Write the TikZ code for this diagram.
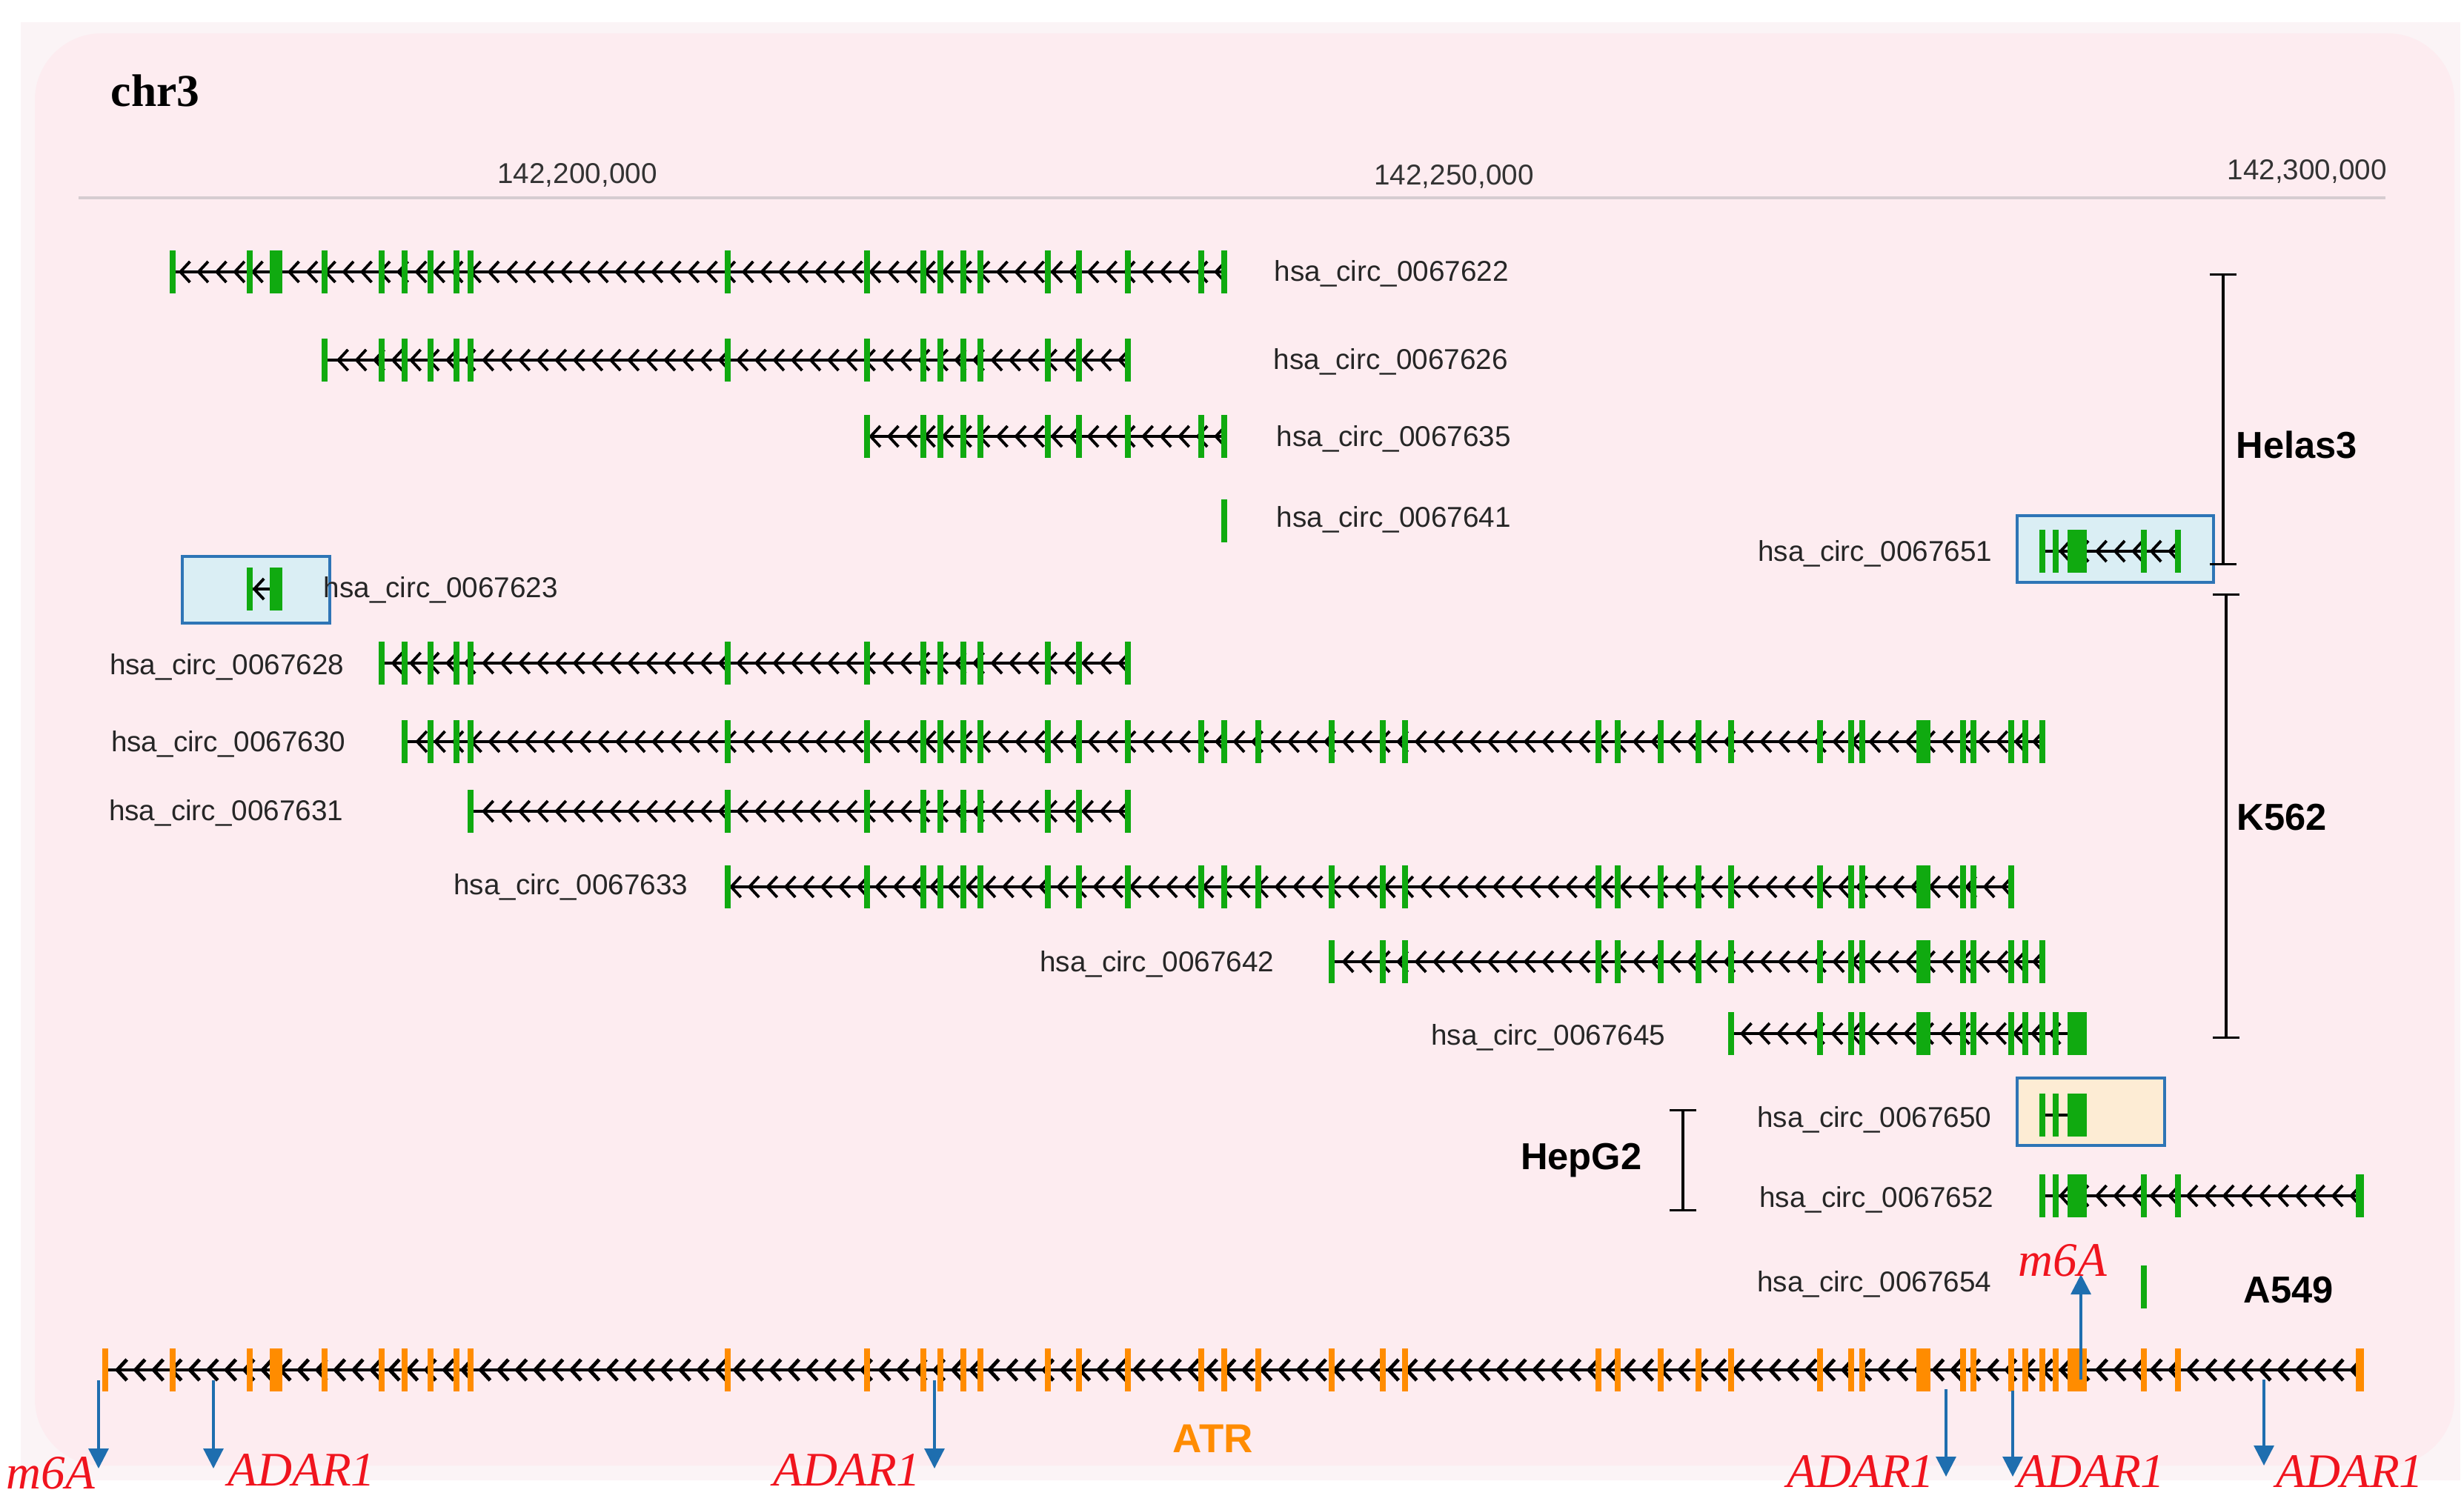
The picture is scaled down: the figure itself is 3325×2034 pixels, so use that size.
\documentclass[tikz,border=0pt]{standalone}
\usepackage{fontspec}
\setmainfont{Liberation Sans}
\newfontfamily\serifont{Liberation Serif}
\usetikzlibrary{arrows.meta,decorations.markings}
\definecolor{circgreen}{RGB}{16,170,16}
\definecolor{atrorange}{RGB}{255,140,0}
\definecolor{modblue}{RGB}{30,110,175}
\definecolor{modred}{RGB}{240,20,30}
\definecolor{pinkbg}{RGB}{253,236,240}
\definecolor{pinkrim}{RGB}{251,244,246}
\definecolor{axisgrey}{RGB}{214,204,208}
\definecolor{boxblue}{RGB}{46,117,182}
\definecolor{boxcyan}{RGB}{218,238,244}
\definecolor{boxcream}{RGB}{253,236,212}
% exon centre / width of the ATR gene model
\newcommand{\atrexons}{142/8, 233/8, 337/8, 372/17, 438/8, 515/8, 546/8, 581/8, 616/8, 635/8,
	982/8, 1170/8, 1246/8, 1269/8, 1300/8, 1323/8, 1414/8, 1456/8, 1522/8, 1621/8, 1652/8,
	1698/8, 1797/8, 1866/8, 1896/8, 2157/8, 2183/8, 2241/8, 2292/8, 2336/8, 2456/8, 2498/8,
	2513/8, 2595/19, 2649/8, 2663/8, 2714/8, 2733/8, 2756/8, 2774/8, 2803/26, 2893/8, 2939/8,
	3184/11}
% [intron style]{row}{first exon}{last exon}{colour}
\newcommand{\transcript}[5][intron]{%
	\ifnum#3<#4 \draw[#1] (#4,#2) -- (#3,#2);\fi
	\foreach \ex/\w in \atrexons {%
		\ifnum\ex<#3 \else\ifnum\ex>#4 \else
			\fill[#5] ({\ex-\w/2},{#2-29}) rectangle ({\ex+\w/2},{#2+29});
		\fi\fi}}
\begin{document}
\begin{tikzpicture}[x=0.01cm, y=-0.01cm,
	plain intron/.style = {line width=1.1pt},
	intron/.style = {plain intron, postaction={decorate},
		decoration={markings, mark=between positions 0.14cm and 1 step 0.245cm
			with {\arrow{Straight Barb[length=1.3mm,width=2.8mm]}}}},
	short intron/.style = {plain intron, postaction={decorate},
		decoration={markings, mark=at position 0.9
			with {\arrow{Straight Barb[length=1.3mm,width=2.8mm]}}}},
	gene intron/.style = {intron, line width=1.4pt},
	circlabel/.style = {font=\fontsize{11}{13}\selectfont, text=black!85, inner sep=0pt},
	axislabel/.style = {font=\fontsize{11}{13}\selectfont, text=black!80, inner sep=0pt, anchor=base},
	celllabel/.style = {font=\bfseries\fontsize{14.4}{17}\selectfont, inner sep=0pt},
	modlabel/.style = {font=\serifont\itshape\fontsize{18.5}{22}\selectfont, text=modred,
		inner sep=0pt, anchor=base west},
	modarrow/.style = {draw=modblue, line width=0.9pt, arrows={-Triangle[length=2.7mm,width=2.7mm]}},
	bracket/.style = {line width=0.9pt, arrows={Bar[width=3.6mm]-Bar[width=3.6mm]}},
	exonbox/.style = {draw=boxblue, line width=1.1pt}]
	\useasboundingbox (0,0) rectangle (3325,2034);
	\fill[pinkrim] (28,30) rectangle (3320,1998);
	\fill[pinkbg, rounded corners=0.9cm] (47,45) rectangle (3312,1978);
	\node[font=\serifont\bfseries\fontsize{17.5}{20}\selectfont, inner sep=0pt, anchor=base west]
		(chr) at (149,144) {chr3};
	\draw[axisgrey, line width=1.4pt] (106,267) -- (3219,267);
	\node[axislabel] (p200) at (779,248) {142,200,000};
	\node[axislabel] (p250) at (1962,250) {142,250,000};
	\node[axislabel] (p300) at (3113,243) {142,300,000};

	\draw[exonbox, fill=boxcyan] (246,751) rectangle (445,841);
	\draw[exonbox, fill=boxcyan] (2722,696) rectangle (2987,786);
	\draw[exonbox, fill=boxcream] (2722,1455) rectangle (2921,1546);

	\transcript{367}{233}{1652}{circgreen}
	\transcript{486}{438}{1522}{circgreen}
	\transcript{589}{1170}{1652}{circgreen}
	\transcript{703}{1652}{1652}{circgreen}
	\transcript{744}{2756}{2939}{circgreen}
	\transcript[short intron]{795}{337}{372}{circgreen}
	\transcript{895}{515}{1522}{circgreen}
	\transcript{1001}{546}{2756}{circgreen}
	\transcript{1095}{635}{1522}{circgreen}
	\transcript{1197}{982}{2714}{circgreen}
	\transcript{1298}{1797}{2756}{circgreen}
	\transcript{1395}{2336}{2803}{circgreen}
	\transcript[plain intron]{1505}{2756}{2803}{circgreen}
	\transcript{1614}{2756}{3184}{circgreen}
	\transcript{1737}{2893}{2893}{circgreen}
	\transcript[gene intron]{1849}{142}{3184}{atrorange}

	\node[circlabel, anchor=base west] (c622) at (1719,380) {hsa\_circ\_0067622};
	\node[circlabel, anchor=base west] (c626) at (1718,499) {hsa\_circ\_0067626};
	\node[circlabel, anchor=base west] (c635) at (1722,603) {hsa\_circ\_0067635};
	\node[circlabel, anchor=base west] (c641) at (1722,711) {hsa\_circ\_0067641};
	\node[circlabel, anchor=base east] (c651) at (2689,757) {hsa\_circ\_0067651};
	\node[circlabel, anchor=base west] (c623) at (436,806) {hsa\_circ\_0067623};
	\node[circlabel, anchor=base east] (c628) at (465,910) {hsa\_circ\_0067628};
	\node[circlabel, anchor=base east] (c630) at (467,1014) {hsa\_circ\_0067630};
	\node[circlabel, anchor=base east] (c631) at (464,1107) {hsa\_circ\_0067631};
	\node[circlabel, anchor=base east] (c633) at (929,1207) {hsa\_circ\_0067633};
	\node[circlabel, anchor=base east] (c642) at (1720,1311) {hsa\_circ\_0067642};
	\node[circlabel, anchor=base east] (c645) at (2248,1410) {hsa\_circ\_0067645};
	\node[circlabel, anchor=base east] (c650) at (2688,1521) {hsa\_circ\_0067650};
	\node[circlabel, anchor=base east] (c652) at (2691,1629) {hsa\_circ\_0067652};
	\node[circlabel, anchor=base east] (c654) at (2688,1743) {hsa\_circ\_0067654};

	\coordinate (hela top) at (3000,369);  \coordinate (hela bot) at (3000,763);
	\coordinate (k562 top) at (3004,801);  \coordinate (k562 bot) at (3004,1402);
	\coordinate (hepg top) at (2271,1497); \coordinate (hepg bot) at (2271,1635);
	\draw[bracket] (hela top) -- (hela bot);
	\draw[bracket] (k562 top) -- (k562 bot);
	\draw[bracket] (hepg top) -- (hepg bot);
	\node[celllabel, anchor=base west] (hela) at (3017,619) {Helas3};
	\node[celllabel, anchor=base west] (k562) at (3018,1120) {K562};
	\node[celllabel, anchor=base east] (hepg) at (2216,1578) {HepG2};
	\node[celllabel, anchor=base west] (a549) at (3027,1758) {A549};
	\node[font=\bfseries\fontsize{15.5}{18}\selectfont, text=atrorange, inner sep=0pt,
		anchor=base west] (atr) at (1582,1960) {ATR};

	\foreach \x/\ya/\yb [count=\i] in {133/1863/1982, 288/1863/1982, 1261/1863/1982,
		2626/1875/1993, 2716/1877/1993, 3055/1862/1978, 2808/1862/1720} {
		\coordinate (site\i) at (\x,\ya);
		\coordinate (tip\i) at (\x,\yb);
		\draw[modarrow] (site\i) -- (tip\i);
	}
	\node[modlabel] (m6a1) at (8,2009) {m6A};
	\node[modlabel] (adar1) at (307,2005) {ADAR1};
	\node[modlabel] (adar2) at (1043,2005) {ADAR1};
	\node[modlabel] (adar3) at (2411,2007) {ADAR1};
	\node[modlabel] (adar4) at (2722,2007) {ADAR1};
	\node[modlabel] (adar5) at (3071,2007) {ADAR1};
	\node[modlabel] (m6a2) at (2723,1722) {m6A};
\end{tikzpicture}
\end{document}
